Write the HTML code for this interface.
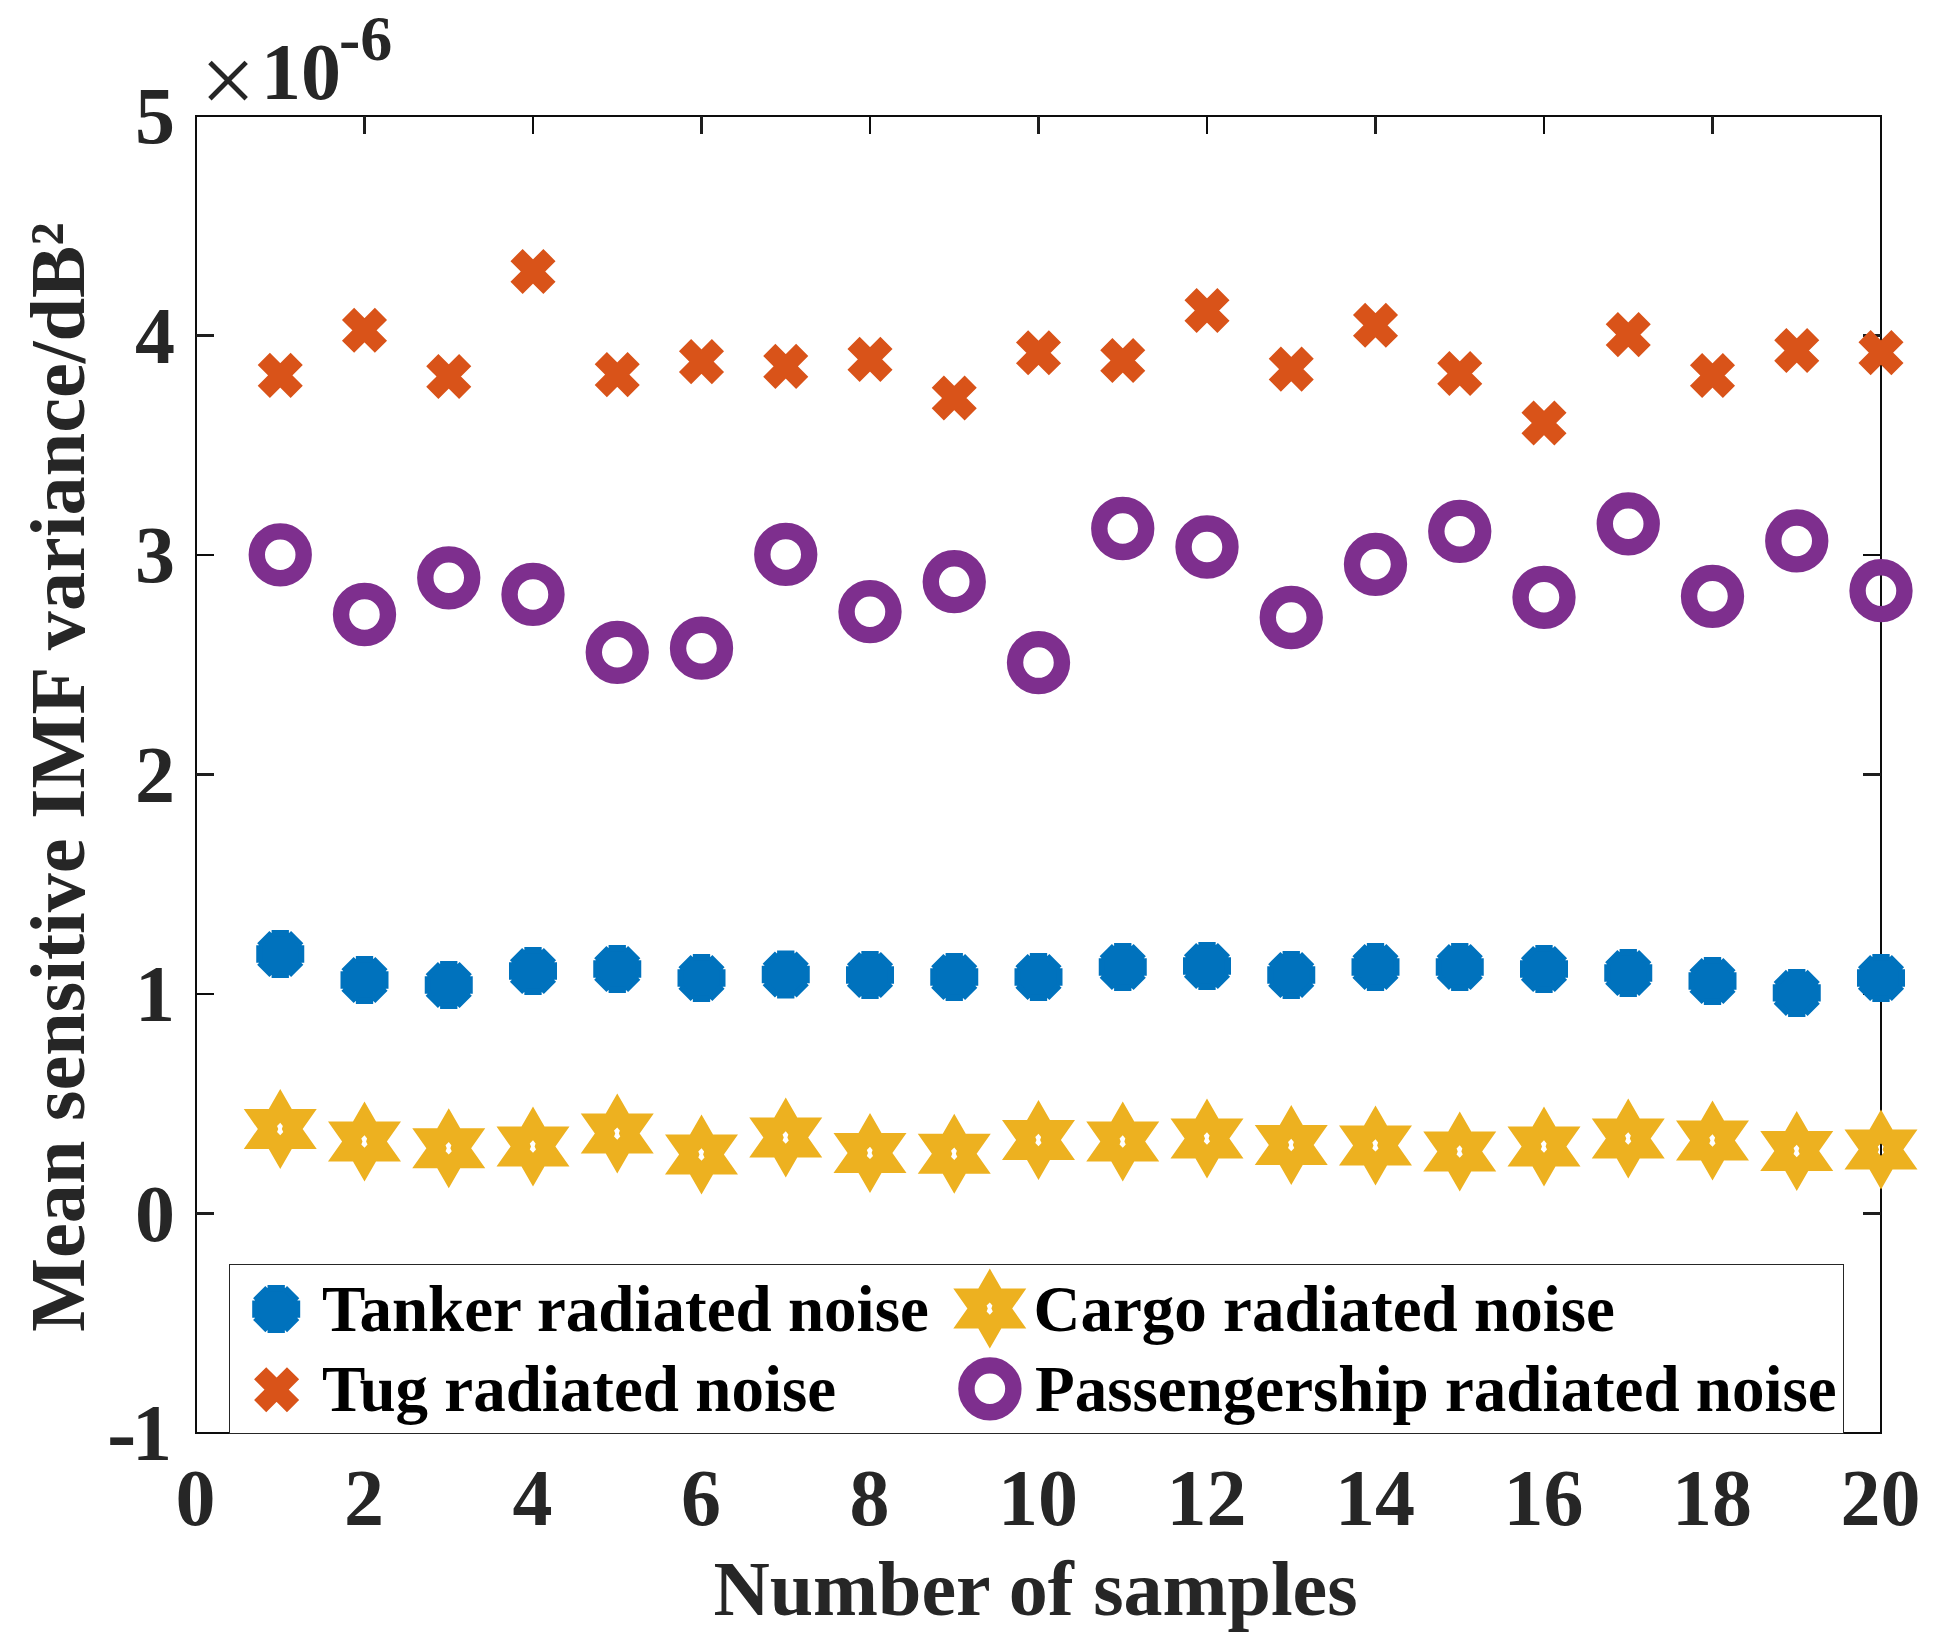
<!DOCTYPE html>
<html lang="en"><head><meta charset="utf-8"><title>Mean sensitive IMF variance</title>
<style>html,body{margin:0;padding:0;background:#fff}svg{display:block}text{font-family:"Liberation Serif",serif;font-weight:bold}</style></head><body>
<svg width="1934" height="1650" viewBox="0 0 1934 1650">
<rect width="1934" height="1650" fill="#fff"/>
<rect x="196" y="116" width="1685" height="1317" stroke="#0d0d0d" stroke-width="2" fill="none"/>
<path d="M533 116V134M533 1433V1415M870 116V134M870 1433V1415M1207 116V134M1207 1433V1415M1544 116V134M1544 1433V1415M196 994H214M1881 994H1863M196 555H214M1881 555H1863" stroke="#0d0d0d" stroke-width="2" fill="none"/>
<path d="M364.5 116V134M364.5 1433V1415M701.5 116V134M701.5 1433V1415M1038.5 116V134M1038.5 1433V1415M1375.5 116V134M1375.5 1433V1415M1712.5 116V134M1712.5 1433V1415M196 1213.5H214M1881 1213.5H1863M196 774.5H214M1881 774.5H1863M196 335.5H214M1881 335.5H1863" stroke="#1e1e1e" stroke-width="3" fill="none"/>
<g>
<polygon points="301.15,962.66 288.91,974.9 271.59,974.9 259.35,962.66 259.35,945.34 271.59,933.1 288.91,933.1 301.15,945.34" fill="#0072BD"/><path d="M301.15 962.66L288.91 974.9M288.91 974.9L271.59 974.9M271.59 974.9L259.35 962.66M259.35 962.66L259.35 945.34M259.35 945.34L271.59 933.1M271.59 933.1L288.91 933.1M288.91 933.1L301.15 945.34M301.15 945.34L301.15 962.66" stroke="#0072BD" stroke-width="6.2" fill="none"/>
<polygon points="385.4,988.66 373.16,1000.9 355.84,1000.9 343.6,988.66 343.6,971.34 355.84,959.1 373.16,959.1 385.4,971.34" fill="#0072BD"/><path d="M385.4 988.66L373.16 1000.9M373.16 1000.9L355.84 1000.9M355.84 1000.9L343.6 988.66M343.6 988.66L343.6 971.34M343.6 971.34L355.84 959.1M355.84 959.1L373.16 959.1M373.16 959.1L385.4 971.34M385.4 971.34L385.4 988.66" stroke="#0072BD" stroke-width="6.2" fill="none"/>
<polygon points="469.65,993.66 457.41,1005.9 440.09,1005.9 427.85,993.66 427.85,976.34 440.09,964.1 457.41,964.1 469.65,976.34" fill="#0072BD"/><path d="M469.65 993.66L457.41 1005.9M457.41 1005.9L440.09 1005.9M440.09 1005.9L427.85 993.66M427.85 993.66L427.85 976.34M427.85 976.34L440.09 964.1M440.09 964.1L457.41 964.1M457.41 964.1L469.65 976.34M469.65 976.34L469.65 993.66" stroke="#0072BD" stroke-width="6.2" fill="none"/>
<polygon points="553.9,979.66 541.66,991.9 524.34,991.9 512.1,979.66 512.1,962.34 524.34,950.1 541.66,950.1 553.9,962.34" fill="#0072BD"/><path d="M553.9 979.66L541.66 991.9M541.66 991.9L524.34 991.9M524.34 991.9L512.1 979.66M512.1 979.66L512.1 962.34M512.1 962.34L524.34 950.1M524.34 950.1L541.66 950.1M541.66 950.1L553.9 962.34M553.9 962.34L553.9 979.66" stroke="#0072BD" stroke-width="6.2" fill="none"/>
<polygon points="638.15,977.66 625.91,989.9 608.59,989.9 596.35,977.66 596.35,960.34 608.59,948.1 625.91,948.1 638.15,960.34" fill="#0072BD"/><path d="M638.15 977.66L625.91 989.9M625.91 989.9L608.59 989.9M608.59 989.9L596.35 977.66M596.35 977.66L596.35 960.34M596.35 960.34L608.59 948.1M608.59 948.1L625.91 948.1M625.91 948.1L638.15 960.34M638.15 960.34L638.15 977.66" stroke="#0072BD" stroke-width="6.2" fill="none"/>
<polygon points="722.4,986.66 710.16,998.9 692.84,998.9 680.6,986.66 680.6,969.34 692.84,957.1 710.16,957.1 722.4,969.34" fill="#0072BD"/><path d="M722.4 986.66L710.16 998.9M710.16 998.9L692.84 998.9M692.84 998.9L680.6 986.66M680.6 986.66L680.6 969.34M680.6 969.34L692.84 957.1M692.84 957.1L710.16 957.1M710.16 957.1L722.4 969.34M722.4 969.34L722.4 986.66" stroke="#0072BD" stroke-width="6.2" fill="none"/>
<polygon points="806.65,983.16 794.41,995.4 777.09,995.4 764.85,983.16 764.85,965.84 777.09,953.6 794.41,953.6 806.65,965.84" fill="#0072BD"/><path d="M806.65 983.16L794.41 995.4M794.41 995.4L777.09 995.4M777.09 995.4L764.85 983.16M764.85 983.16L764.85 965.84M764.85 965.84L777.09 953.6M777.09 953.6L794.41 953.6M794.41 953.6L806.65 965.84M806.65 965.84L806.65 983.16" stroke="#0072BD" stroke-width="6.2" fill="none"/>
<polygon points="890.9,983.66 878.66,995.9 861.34,995.9 849.1,983.66 849.1,966.34 861.34,954.1 878.66,954.1 890.9,966.34" fill="#0072BD"/><path d="M890.9 983.66L878.66 995.9M878.66 995.9L861.34 995.9M861.34 995.9L849.1 983.66M849.1 983.66L849.1 966.34M849.1 966.34L861.34 954.1M861.34 954.1L878.66 954.1M878.66 954.1L890.9 966.34M890.9 966.34L890.9 983.66" stroke="#0072BD" stroke-width="6.2" fill="none"/>
<polygon points="975.15,985.66 962.91,997.9 945.59,997.9 933.35,985.66 933.35,968.34 945.59,956.1 962.91,956.1 975.15,968.34" fill="#0072BD"/><path d="M975.15 985.66L962.91 997.9M962.91 997.9L945.59 997.9M945.59 997.9L933.35 985.66M933.35 985.66L933.35 968.34M933.35 968.34L945.59 956.1M945.59 956.1L962.91 956.1M962.91 956.1L975.15 968.34M975.15 968.34L975.15 985.66" stroke="#0072BD" stroke-width="6.2" fill="none"/>
<polygon points="1059.4,985.66 1047.16,997.9 1029.84,997.9 1017.6,985.66 1017.6,968.34 1029.84,956.1 1047.16,956.1 1059.4,968.34" fill="#0072BD"/><path d="M1059.4 985.66L1047.16 997.9M1047.16 997.9L1029.84 997.9M1029.84 997.9L1017.6 985.66M1017.6 985.66L1017.6 968.34M1017.6 968.34L1029.84 956.1M1029.84 956.1L1047.16 956.1M1047.16 956.1L1059.4 968.34M1059.4 968.34L1059.4 985.66" stroke="#0072BD" stroke-width="6.2" fill="none"/>
<polygon points="1143.65,975.66 1131.41,987.9 1114.09,987.9 1101.85,975.66 1101.85,958.34 1114.09,946.1 1131.41,946.1 1143.65,958.34" fill="#0072BD"/><path d="M1143.65 975.66L1131.41 987.9M1131.41 987.9L1114.09 987.9M1114.09 987.9L1101.85 975.66M1101.85 975.66L1101.85 958.34M1101.85 958.34L1114.09 946.1M1114.09 946.1L1131.41 946.1M1131.41 946.1L1143.65 958.34M1143.65 958.34L1143.65 975.66" stroke="#0072BD" stroke-width="6.2" fill="none"/>
<polygon points="1227.9,974.66 1215.66,986.9 1198.34,986.9 1186.1,974.66 1186.1,957.34 1198.34,945.1 1215.66,945.1 1227.9,957.34" fill="#0072BD"/><path d="M1227.9 974.66L1215.66 986.9M1215.66 986.9L1198.34 986.9M1198.34 986.9L1186.1 974.66M1186.1 974.66L1186.1 957.34M1186.1 957.34L1198.34 945.1M1198.34 945.1L1215.66 945.1M1215.66 945.1L1227.9 957.34M1227.9 957.34L1227.9 974.66" stroke="#0072BD" stroke-width="6.2" fill="none"/>
<polygon points="1312.15,983.66 1299.91,995.9 1282.59,995.9 1270.35,983.66 1270.35,966.34 1282.59,954.1 1299.91,954.1 1312.15,966.34" fill="#0072BD"/><path d="M1312.15 983.66L1299.91 995.9M1299.91 995.9L1282.59 995.9M1282.59 995.9L1270.35 983.66M1270.35 983.66L1270.35 966.34M1270.35 966.34L1282.59 954.1M1282.59 954.1L1299.91 954.1M1299.91 954.1L1312.15 966.34M1312.15 966.34L1312.15 983.66" stroke="#0072BD" stroke-width="6.2" fill="none"/>
<polygon points="1396.4,975.66 1384.16,987.9 1366.84,987.9 1354.6,975.66 1354.6,958.34 1366.84,946.1 1384.16,946.1 1396.4,958.34" fill="#0072BD"/><path d="M1396.4 975.66L1384.16 987.9M1384.16 987.9L1366.84 987.9M1366.84 987.9L1354.6 975.66M1354.6 975.66L1354.6 958.34M1354.6 958.34L1366.84 946.1M1366.84 946.1L1384.16 946.1M1384.16 946.1L1396.4 958.34M1396.4 958.34L1396.4 975.66" stroke="#0072BD" stroke-width="6.2" fill="none"/>
<polygon points="1480.65,975.66 1468.41,987.9 1451.09,987.9 1438.85,975.66 1438.85,958.34 1451.09,946.1 1468.41,946.1 1480.65,958.34" fill="#0072BD"/><path d="M1480.65 975.66L1468.41 987.9M1468.41 987.9L1451.09 987.9M1451.09 987.9L1438.85 975.66M1438.85 975.66L1438.85 958.34M1438.85 958.34L1451.09 946.1M1451.09 946.1L1468.41 946.1M1468.41 946.1L1480.65 958.34M1480.65 958.34L1480.65 975.66" stroke="#0072BD" stroke-width="6.2" fill="none"/>
<polygon points="1564.9,977.66 1552.66,989.9 1535.34,989.9 1523.1,977.66 1523.1,960.34 1535.34,948.1 1552.66,948.1 1564.9,960.34" fill="#0072BD"/><path d="M1564.9 977.66L1552.66 989.9M1552.66 989.9L1535.34 989.9M1535.34 989.9L1523.1 977.66M1523.1 977.66L1523.1 960.34M1523.1 960.34L1535.34 948.1M1535.34 948.1L1552.66 948.1M1552.66 948.1L1564.9 960.34M1564.9 960.34L1564.9 977.66" stroke="#0072BD" stroke-width="6.2" fill="none"/>
<polygon points="1649.15,981.66 1636.91,993.9 1619.59,993.9 1607.35,981.66 1607.35,964.34 1619.59,952.1 1636.91,952.1 1649.15,964.34" fill="#0072BD"/><path d="M1649.15 981.66L1636.91 993.9M1636.91 993.9L1619.59 993.9M1619.59 993.9L1607.35 981.66M1607.35 981.66L1607.35 964.34M1607.35 964.34L1619.59 952.1M1619.59 952.1L1636.91 952.1M1636.91 952.1L1649.15 964.34M1649.15 964.34L1649.15 981.66" stroke="#0072BD" stroke-width="6.2" fill="none"/>
<polygon points="1733.4,989.66 1721.16,1001.9 1703.84,1001.9 1691.6,989.66 1691.6,972.34 1703.84,960.1 1721.16,960.1 1733.4,972.34" fill="#0072BD"/><path d="M1733.4 989.66L1721.16 1001.9M1721.16 1001.9L1703.84 1001.9M1703.84 1001.9L1691.6 989.66M1691.6 989.66L1691.6 972.34M1691.6 972.34L1703.84 960.1M1703.84 960.1L1721.16 960.1M1721.16 960.1L1733.4 972.34M1733.4 972.34L1733.4 989.66" stroke="#0072BD" stroke-width="6.2" fill="none"/>
<polygon points="1817.65,1001.56 1805.41,1013.8 1788.09,1013.8 1775.85,1001.56 1775.85,984.24 1788.09,972 1805.41,972 1817.65,984.24" fill="#0072BD"/><path d="M1817.65 1001.56L1805.41 1013.8M1805.41 1013.8L1788.09 1013.8M1788.09 1013.8L1775.85 1001.56M1775.85 1001.56L1775.85 984.24M1775.85 984.24L1788.09 972M1788.09 972L1805.41 972M1805.41 972L1817.65 984.24M1817.65 984.24L1817.65 1001.56" stroke="#0072BD" stroke-width="6.2" fill="none"/>
<polygon points="1901.9,986.66 1889.66,998.9 1872.34,998.9 1860.1,986.66 1860.1,969.34 1872.34,957.1 1889.66,957.1 1901.9,969.34" fill="#0072BD"/><path d="M1901.9 986.66L1889.66 998.9M1889.66 998.9L1872.34 998.9M1872.34 998.9L1860.1 986.66M1860.1 986.66L1860.1 969.34M1860.1 969.34L1872.34 957.1M1872.34 957.1L1889.66 957.1M1889.66 957.1L1901.9 969.34M1901.9 969.34L1901.9 986.66" stroke="#0072BD" stroke-width="6.2" fill="none"/>
</g><g>
<path d="M263.8 358.95L296.7 391.85M263.8 391.85L296.7 358.95" stroke="#D95319" stroke-width="17.2" fill="none"/>
<path d="M348.05 313.85L380.95 346.75M348.05 346.75L380.95 313.85" stroke="#D95319" stroke-width="17.2" fill="none"/>
<path d="M432.3 360.05L465.2 392.95M432.3 392.95L465.2 360.05" stroke="#D95319" stroke-width="17.2" fill="none"/>
<path d="M516.55 255.05L549.45 287.95M516.55 287.95L549.45 255.05" stroke="#D95319" stroke-width="17.2" fill="none"/>
<path d="M600.8 358.15L633.7 391.05M600.8 391.05L633.7 358.15" stroke="#D95319" stroke-width="17.2" fill="none"/>
<path d="M685.05 345.15L717.95 378.05M685.05 378.05L717.95 345.15" stroke="#D95319" stroke-width="17.2" fill="none"/>
<path d="M769.3 349.95L802.2 382.85M769.3 382.85L802.2 349.95" stroke="#D95319" stroke-width="17.2" fill="none"/>
<path d="M853.55 342.95L886.45 375.85M853.55 375.85L886.45 342.95" stroke="#D95319" stroke-width="17.2" fill="none"/>
<path d="M937.8 381.55L970.7 414.45M937.8 414.45L970.7 381.55" stroke="#D95319" stroke-width="17.2" fill="none"/>
<path d="M1022.05 336.35L1054.95 369.25M1022.05 369.25L1054.95 336.35" stroke="#D95319" stroke-width="17.2" fill="none"/>
<path d="M1106.3 344.05L1139.2 376.95M1106.3 376.95L1139.2 344.05" stroke="#D95319" stroke-width="17.2" fill="none"/>
<path d="M1190.55 294.05L1223.45 326.95M1190.55 326.95L1223.45 294.05" stroke="#D95319" stroke-width="17.2" fill="none"/>
<path d="M1274.8 352.65L1307.7 385.55M1274.8 385.55L1307.7 352.65" stroke="#D95319" stroke-width="17.2" fill="none"/>
<path d="M1359.05 308.85L1391.95 341.75M1359.05 341.75L1391.95 308.85" stroke="#D95319" stroke-width="17.2" fill="none"/>
<path d="M1443.3 357.05L1476.2 389.95M1443.3 389.95L1476.2 357.05" stroke="#D95319" stroke-width="17.2" fill="none"/>
<path d="M1527.55 406.55L1560.45 439.45M1527.55 439.45L1560.45 406.55" stroke="#D95319" stroke-width="17.2" fill="none"/>
<path d="M1611.8 318.15L1644.7 351.05M1611.8 351.05L1644.7 318.15" stroke="#D95319" stroke-width="17.2" fill="none"/>
<path d="M1696.05 359.05L1728.95 391.95M1696.05 391.95L1728.95 359.05" stroke="#D95319" stroke-width="17.2" fill="none"/>
<path d="M1780.3 334.05L1813.2 366.95M1780.3 366.95L1813.2 334.05" stroke="#D95319" stroke-width="17.2" fill="none"/>
<path d="M1864.55 336.15L1897.45 369.05M1864.55 369.05L1897.45 336.15" stroke="#D95319" stroke-width="17.2" fill="none"/>
</g><g>
<path d="M280.25 1089L291.75 1109L316.75 1109L302.65 1129L316.75 1149L291.75 1149L280.25 1169L268.75 1149L243.75 1149L257.85 1129L243.75 1109L268.75 1109ZM280.25 1122.8L282.85 1126L281.85 1129L283.25 1132L280.25 1135.2L277.05 1132L278.25 1129L277.05 1126Z" fill="#EDB120" fill-rule="evenodd"/>
<path d="M364.5 1101.5L376 1121.5L401 1121.5L386.9 1141.5L401 1161.5L376 1161.5L364.5 1181.5L353 1161.5L328 1161.5L342.1 1141.5L328 1121.5L353 1121.5ZM364.5 1135.3L367.1 1138.5L366.1 1141.5L367.5 1144.5L364.5 1147.7L361.3 1144.5L362.5 1141.5L361.3 1138.5Z" fill="#EDB120" fill-rule="evenodd"/>
<path d="M448.75 1108.3L460.25 1128.3L485.25 1128.3L471.15 1148.3L485.25 1168.3L460.25 1168.3L448.75 1188.3L437.25 1168.3L412.25 1168.3L426.35 1148.3L412.25 1128.3L437.25 1128.3ZM448.75 1142.1L451.35 1145.3L450.35 1148.3L451.75 1151.3L448.75 1154.5L445.55 1151.3L446.75 1148.3L445.55 1145.3Z" fill="#EDB120" fill-rule="evenodd"/>
<path d="M533 1106.5L544.5 1126.5L569.5 1126.5L555.4 1146.5L569.5 1166.5L544.5 1166.5L533 1186.5L521.5 1166.5L496.5 1166.5L510.6 1146.5L496.5 1126.5L521.5 1126.5ZM533 1140.3L535.6 1143.5L534.6 1146.5L536 1149.5L533 1152.7L529.8 1149.5L531 1146.5L529.8 1143.5Z" fill="#EDB120" fill-rule="evenodd"/>
<path d="M617.25 1093.6L628.75 1113.6L653.75 1113.6L639.65 1133.6L653.75 1153.6L628.75 1153.6L617.25 1173.6L605.75 1153.6L580.75 1153.6L594.85 1133.6L580.75 1113.6L605.75 1113.6ZM617.25 1127.4L619.85 1130.6L618.85 1133.6L620.25 1136.6L617.25 1139.8L614.05 1136.6L615.25 1133.6L614.05 1130.6Z" fill="#EDB120" fill-rule="evenodd"/>
<path d="M701.5 1114.5L713 1134.5L738 1134.5L723.9 1154.5L738 1174.5L713 1174.5L701.5 1194.5L690 1174.5L665 1174.5L679.1 1154.5L665 1134.5L690 1134.5ZM701.5 1148.3L704.1 1151.5L703.1 1154.5L704.5 1157.5L701.5 1160.7L698.3 1157.5L699.5 1154.5L698.3 1151.5Z" fill="#EDB120" fill-rule="evenodd"/>
<path d="M785.75 1097.5L797.25 1117.5L822.25 1117.5L808.15 1137.5L822.25 1157.5L797.25 1157.5L785.75 1177.5L774.25 1157.5L749.25 1157.5L763.35 1137.5L749.25 1117.5L774.25 1117.5ZM785.75 1131.3L788.35 1134.5L787.35 1137.5L788.75 1140.5L785.75 1143.7L782.55 1140.5L783.75 1137.5L782.55 1134.5Z" fill="#EDB120" fill-rule="evenodd"/>
<path d="M870 1112.9L881.5 1132.9L906.5 1132.9L892.4 1152.9L906.5 1172.9L881.5 1172.9L870 1192.9L858.5 1172.9L833.5 1172.9L847.6 1152.9L833.5 1132.9L858.5 1132.9ZM870 1146.7L872.6 1149.9L871.6 1152.9L873 1155.9L870 1159.1L866.8 1155.9L868 1152.9L866.8 1149.9Z" fill="#EDB120" fill-rule="evenodd"/>
<path d="M954.25 1113.8L965.75 1133.8L990.75 1133.8L976.65 1153.8L990.75 1173.8L965.75 1173.8L954.25 1193.8L942.75 1173.8L917.75 1173.8L931.85 1153.8L917.75 1133.8L942.75 1133.8ZM954.25 1147.6L956.85 1150.8L955.85 1153.8L957.25 1156.8L954.25 1160L951.05 1156.8L952.25 1153.8L951.05 1150.8Z" fill="#EDB120" fill-rule="evenodd"/>
<path d="M1038.5 1100L1050 1120L1075 1120L1060.9 1140L1075 1160L1050 1160L1038.5 1180L1027 1160L1002 1160L1016.1 1140L1002 1120L1027 1120ZM1038.5 1133.8L1041.1 1137L1040.1 1140L1041.5 1143L1038.5 1146.2L1035.3 1143L1036.5 1140L1035.3 1137Z" fill="#EDB120" fill-rule="evenodd"/>
<path d="M1122.75 1101.5L1134.25 1121.5L1159.25 1121.5L1145.15 1141.5L1159.25 1161.5L1134.25 1161.5L1122.75 1181.5L1111.25 1161.5L1086.25 1161.5L1100.35 1141.5L1086.25 1121.5L1111.25 1121.5ZM1122.75 1135.3L1125.35 1138.5L1124.35 1141.5L1125.75 1144.5L1122.75 1147.7L1119.55 1144.5L1120.75 1141.5L1119.55 1138.5Z" fill="#EDB120" fill-rule="evenodd"/>
<path d="M1207 1098.5L1218.5 1118.5L1243.5 1118.5L1229.4 1138.5L1243.5 1158.5L1218.5 1158.5L1207 1178.5L1195.5 1158.5L1170.5 1158.5L1184.6 1138.5L1170.5 1118.5L1195.5 1118.5ZM1207 1132.3L1209.6 1135.5L1208.6 1138.5L1210 1141.5L1207 1144.7L1203.8 1141.5L1205 1138.5L1203.8 1135.5Z" fill="#EDB120" fill-rule="evenodd"/>
<path d="M1291.25 1105L1302.75 1125L1327.75 1125L1313.65 1145L1327.75 1165L1302.75 1165L1291.25 1185L1279.75 1165L1254.75 1165L1268.85 1145L1254.75 1125L1279.75 1125ZM1291.25 1138.8L1293.85 1142L1292.85 1145L1294.25 1148L1291.25 1151.2L1288.05 1148L1289.25 1145L1288.05 1142Z" fill="#EDB120" fill-rule="evenodd"/>
<path d="M1375.5 1105.4L1387 1125.4L1412 1125.4L1397.9 1145.4L1412 1165.4L1387 1165.4L1375.5 1185.4L1364 1165.4L1339 1165.4L1353.1 1145.4L1339 1125.4L1364 1125.4ZM1375.5 1139.2L1378.1 1142.4L1377.1 1145.4L1378.5 1148.4L1375.5 1151.6L1372.3 1148.4L1373.5 1145.4L1372.3 1142.4Z" fill="#EDB120" fill-rule="evenodd"/>
<path d="M1459.75 1111.5L1471.25 1131.5L1496.25 1131.5L1482.15 1151.5L1496.25 1171.5L1471.25 1171.5L1459.75 1191.5L1448.25 1171.5L1423.25 1171.5L1437.35 1151.5L1423.25 1131.5L1448.25 1131.5ZM1459.75 1145.3L1462.35 1148.5L1461.35 1151.5L1462.75 1154.5L1459.75 1157.7L1456.55 1154.5L1457.75 1151.5L1456.55 1148.5Z" fill="#EDB120" fill-rule="evenodd"/>
<path d="M1544 1106.5L1555.5 1126.5L1580.5 1126.5L1566.4 1146.5L1580.5 1166.5L1555.5 1166.5L1544 1186.5L1532.5 1166.5L1507.5 1166.5L1521.6 1146.5L1507.5 1126.5L1532.5 1126.5ZM1544 1140.3L1546.6 1143.5L1545.6 1146.5L1547 1149.5L1544 1152.7L1540.8 1149.5L1542 1146.5L1540.8 1143.5Z" fill="#EDB120" fill-rule="evenodd"/>
<path d="M1628.25 1098.5L1639.75 1118.5L1664.75 1118.5L1650.65 1138.5L1664.75 1158.5L1639.75 1158.5L1628.25 1178.5L1616.75 1158.5L1591.75 1158.5L1605.85 1138.5L1591.75 1118.5L1616.75 1118.5ZM1628.25 1132.3L1630.85 1135.5L1629.85 1138.5L1631.25 1141.5L1628.25 1144.7L1625.05 1141.5L1626.25 1138.5L1625.05 1135.5Z" fill="#EDB120" fill-rule="evenodd"/>
<path d="M1712.5 1100.5L1724 1120.5L1749 1120.5L1734.9 1140.5L1749 1160.5L1724 1160.5L1712.5 1180.5L1701 1160.5L1676 1160.5L1690.1 1140.5L1676 1120.5L1701 1120.5ZM1712.5 1134.3L1715.1 1137.5L1714.1 1140.5L1715.5 1143.5L1712.5 1146.7L1709.3 1143.5L1710.5 1140.5L1709.3 1137.5Z" fill="#EDB120" fill-rule="evenodd"/>
<path d="M1796.75 1111L1808.25 1131L1833.25 1131L1819.15 1151L1833.25 1171L1808.25 1171L1796.75 1191L1785.25 1171L1760.25 1171L1774.35 1151L1760.25 1131L1785.25 1131ZM1796.75 1144.8L1799.35 1148L1798.35 1151L1799.75 1154L1796.75 1157.2L1793.55 1154L1794.75 1151L1793.55 1148Z" fill="#EDB120" fill-rule="evenodd"/>
<path d="M1881 1109.6L1892.5 1129.6L1917.5 1129.6L1903.4 1149.6L1917.5 1169.6L1892.5 1169.6L1881 1189.6L1869.5 1169.6L1844.5 1169.6L1858.6 1149.6L1844.5 1129.6L1869.5 1129.6ZM1881 1143.4L1883.6 1146.6L1882.6 1149.6L1884 1152.6L1881 1155.8L1877.8 1152.6L1879 1149.6L1877.8 1146.6Z" fill="#EDB120" fill-rule="evenodd"/>
</g><g>
<circle cx="280.25" cy="554.8" r="23.45" stroke="#7E2F8E" stroke-width="16.4" fill="none"/>
<circle cx="364.5" cy="614.5" r="23.45" stroke="#7E2F8E" stroke-width="16.4" fill="none"/>
<circle cx="448.75" cy="577.8" r="23.45" stroke="#7E2F8E" stroke-width="16.4" fill="none"/>
<circle cx="533" cy="594.4" r="23.45" stroke="#7E2F8E" stroke-width="16.4" fill="none"/>
<circle cx="617.25" cy="652.3" r="23.45" stroke="#7E2F8E" stroke-width="16.4" fill="none"/>
<circle cx="701.5" cy="648.2" r="23.45" stroke="#7E2F8E" stroke-width="16.4" fill="none"/>
<circle cx="785.75" cy="554.4" r="23.45" stroke="#7E2F8E" stroke-width="16.4" fill="none"/>
<circle cx="870" cy="611.7" r="23.45" stroke="#7E2F8E" stroke-width="16.4" fill="none"/>
<circle cx="954.25" cy="581.7" r="23.45" stroke="#7E2F8E" stroke-width="16.4" fill="none"/>
<circle cx="1038.5" cy="662.6" r="23.45" stroke="#7E2F8E" stroke-width="16.4" fill="none"/>
<circle cx="1122.75" cy="528.5" r="23.45" stroke="#7E2F8E" stroke-width="16.4" fill="none"/>
<circle cx="1207" cy="547" r="23.45" stroke="#7E2F8E" stroke-width="16.4" fill="none"/>
<circle cx="1291.25" cy="617.5" r="23.45" stroke="#7E2F8E" stroke-width="16.4" fill="none"/>
<circle cx="1375.5" cy="564.3" r="23.45" stroke="#7E2F8E" stroke-width="16.4" fill="none"/>
<circle cx="1459.75" cy="531.3" r="23.45" stroke="#7E2F8E" stroke-width="16.4" fill="none"/>
<circle cx="1544" cy="597.3" r="23.45" stroke="#7E2F8E" stroke-width="16.4" fill="none"/>
<circle cx="1628.25" cy="523.8" r="23.45" stroke="#7E2F8E" stroke-width="16.4" fill="none"/>
<circle cx="1712.5" cy="596.3" r="23.45" stroke="#7E2F8E" stroke-width="16.4" fill="none"/>
<circle cx="1796.75" cy="540.9" r="23.45" stroke="#7E2F8E" stroke-width="16.4" fill="none"/>
<circle cx="1881" cy="590.7" r="23.45" stroke="#7E2F8E" stroke-width="16.4" fill="none"/>
</g>
<g fill="#262626" font-size="80" text-anchor="middle">
<text x="195.5" y="1524.7">0</text>
<text x="364" y="1524.7">2</text>
<text x="532.5" y="1524.7">4</text>
<text x="701" y="1524.7">6</text>
<text x="869.5" y="1524.7">8</text>
<text x="1038" y="1524.7">10</text>
<text x="1206.5" y="1524.7">12</text>
<text x="1375" y="1524.7">14</text>
<text x="1543.5" y="1524.7">16</text>
<text x="1712" y="1524.7">18</text>
<text x="1880.5" y="1524.7">20</text>
</g>
<g fill="#262626" font-size="80" text-anchor="end">
<text x="175" y="1240.7">0</text>
<text x="175" y="1021.2">1</text>
<text x="175" y="801.7">2</text>
<text x="175" y="582.2">3</text>
<text x="175" y="362.7">4</text>
<text x="175" y="143.2">5</text>
<text x="172" y="1460.2">1</text>
<text x="136.2" y="1462.2" font-size="88">-</text>
</g>
<text x="200.5" y="113" font-size="97.5" fill="#262626" style="font-weight:normal">×</text>
<text x="261" y="98.8" font-size="80" fill="#262626">10</text>
<text x="339" y="60" font-size="64" fill="#262626">-6</text>
<text x="1035.5" y="1614.9" font-size="78" fill="#262626" text-anchor="middle">Number of samples</text>
<text transform="translate(84,777.1) rotate(-90)" font-size="78.25" fill="#262626" text-anchor="middle">Mean sensitive IMF variance/dB²</text>
<rect x="229.5" y="1264.5" width="1614" height="169" fill="#fff" stroke="#262626" stroke-width="1"/>
<polygon points="297.1,1317.76 284.86,1330 267.54,1330 255.3,1317.76 255.3,1300.44 267.54,1288.2 284.86,1288.2 297.1,1300.44" fill="#0072BD"/><path d="M297.1 1317.76L284.86 1330M284.86 1330L267.54 1330M267.54 1330L255.3 1317.76M255.3 1317.76L255.3 1300.44M255.3 1300.44L267.54 1288.2M267.54 1288.2L284.86 1288.2M284.86 1288.2L297.1 1300.44M297.1 1300.44L297.1 1317.76" stroke="#0072BD" stroke-width="6.2" fill="none"/>
<path d="M260.15 1373.25L293.05 1406.15M260.15 1406.15L293.05 1373.25" stroke="#D95319" stroke-width="17.2" fill="none"/>
<path d="M989.8 1268.6L1001.3 1288.6L1026.3 1288.6L1012.2 1308.6L1026.3 1328.6L1001.3 1328.6L989.8 1348.6L978.3 1328.6L953.3 1328.6L967.4 1308.6L953.3 1288.6L978.3 1288.6ZM989.8 1302.4L992.4 1305.6L991.4 1308.6L992.8 1311.6L989.8 1314.8L986.6 1311.6L987.8 1308.6L986.6 1305.6Z" fill="#EDB120" fill-rule="evenodd"/>
<circle cx="989.9" cy="1388.8" r="23.45" stroke="#7E2F8E" stroke-width="16.4" fill="none"/>
<g fill="#000" font-size="65">
<text x="322" y="1331">Tanker radiated noise</text>
<text x="322" y="1410.5">Tug radiated noise</text>
<text x="1033.5" y="1331">Cargo radiated noise</text>
<text x="1035" y="1410.5">Passengership radiated noise</text>
</g>
</svg></body></html>
